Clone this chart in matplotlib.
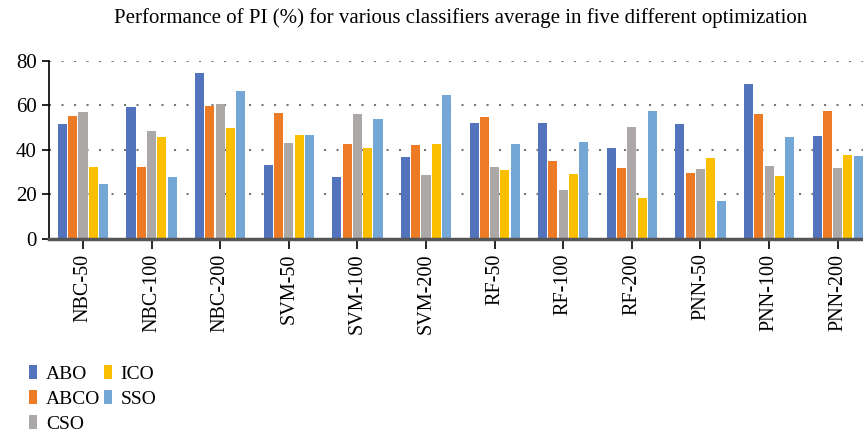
import matplotlib.pyplot as plt
import numpy as np

plt.rcParams['font.family'] = ['Liberation Serif', 'DejaVu Serif']

categories = ['NBC-50', 'NBC-100', 'NBC-200', 'SVM-50', 'SVM-100', 'SVM-200',
              'RF-50', 'RF-100', 'RF-200', 'PNN-50', 'PNN-100', 'PNN-200']
abo = [51.6, 59.2, 74.5, 33.2, 27.8, 36.8, 52.0, 52.0, 40.9, 51.6, 69.5, 46.2]
abco = [55.2, 32.3, 59.7, 56.5, 42.6, 42.2, 54.7, 35.0, 31.9, 29.6, 56.0, 57.4]
cso = [57.0, 48.5, 60.6, 43.1, 56.0, 28.7, 32.3, 22.0, 50.2, 31.4, 32.8, 31.9]
ico = [32.3, 45.8, 49.8, 46.6, 40.9, 42.6, 31.0, 29.2, 18.4, 36.3, 28.3, 37.7]
sso = [24.7, 27.8, 66.4, 46.6, 53.8, 64.6, 42.6, 43.5, 57.4, 17.0, 45.8, 37.2]

names = ['ABO', 'ABCO', 'CSO', 'ICO', 'SSO']
colors = ['#5473BD', '#ED7A25', '#ABA8A7', '#FBBF00', '#74A6D6']
series = [abo, abco, cso, ico, sso]

fig = plt.figure(figsize=(8.63, 4.36), dpi=100)
ax = fig.add_axes([0.0564, 0.4518, 0.954, 0.409])

x = np.arange(len(categories))
step = 0.15
w = 0.132
for i, (vals, name, c) in enumerate(zip(series, names, colors)):
    ax.bar(x + (i - 2) * step, vals, w, color=c, label=name, zorder=3)

ax.set_xlim(-0.5, len(categories) - 0.5)
ax.set_ylim(0, 80)
ax.set_yticks([0, 20, 40, 60, 80])
ax.set_xticks(x)
ax.set_xticklabels(categories, rotation=90, fontsize=14.5)
ax.tick_params(axis='y', labelsize=15, length=5, width=1.2, direction='out')
ax.tick_params(axis='x', length=7, width=1.2, direction='out')
ax.yaxis.grid(True, linestyle=(0, (1, 5)), color='#777777', linewidth=1.5, zorder=0)

for s in ['top', 'right']:
    ax.spines[s].set_visible(False)
ax.spines['left'].set_linewidth(1.2)
ax.spines['bottom'].set_color('#555555')
ax.spines['bottom'].set_linewidth(2.5)
ax.spines['bottom'].set_zorder(4)

fig.text(0.534, 0.958, 'Performance of PI (%) for various classifiers average in five different optimization',
         ha='center', va='center', fontsize=15)

fig.legend(loc='upper left', bbox_to_anchor=(0.034, 0.162), ncol=2, frameon=False,
           fontsize=14, handlelength=0.4, handleheight=0.7, handletextpad=0.45,
           columnspacing=0.2, labelspacing=0.38, borderaxespad=0, borderpad=0)

plt.savefig('out.png', dpi=100)
